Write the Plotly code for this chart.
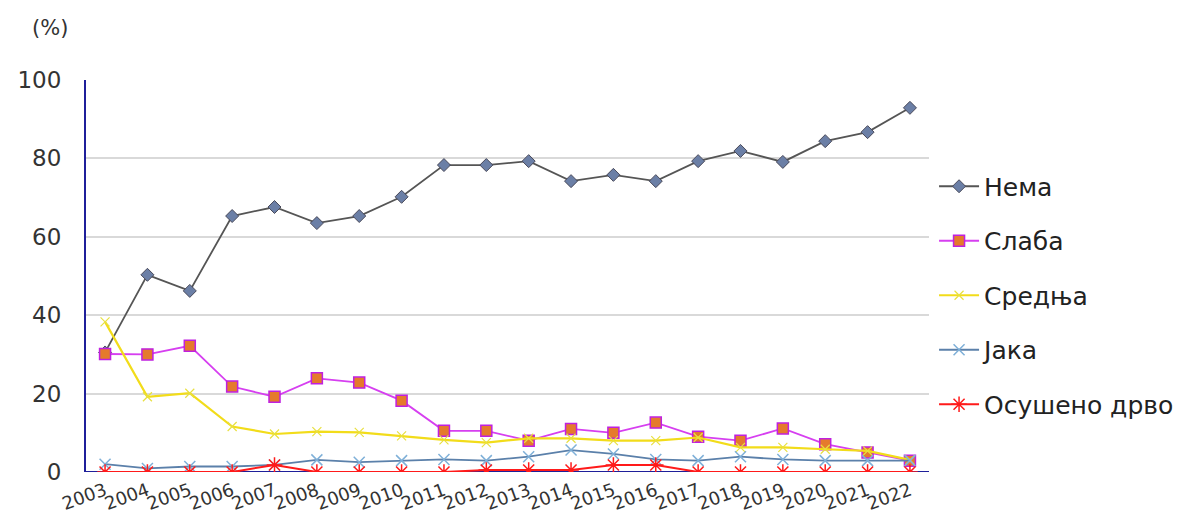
import plotly.graph_objects as go

years = [str(y) for y in range(2003, 2023)]
nema = [30.5, 50.3, 46.2, 65.3, 67.6, 63.5, 65.3, 70.2, 78.3, 78.3, 79.3, 74.2, 75.8, 74.2, 79.3, 81.9, 79.1, 84.4, 86.7, 92.9]
slaba = [30.1, 30.0, 32.2, 21.8, 19.2, 23.9, 22.8, 18.2, 10.5, 10.5, 8.0, 11.0, 10.0, 12.6, 9.0, 8.0, 11.1, 7.1, 5.0, 2.9]
srednja = [38.3, 19.2, 20.1, 11.6, 9.7, 10.3, 10.1, 9.2, 8.2, 7.5, 8.6, 8.6, 8.0, 8.0, 8.8, 6.3, 6.3, 5.8, 5.4, 3.1]
jaka = [2.0, 0.9, 1.4, 1.4, 1.8, 3.1, 2.5, 2.9, 3.2, 2.9, 3.9, 5.6, 4.6, 3.2, 2.9, 3.9, 3.2, 2.9, 2.9, 2.9]
osuseno = [0, 0, 0, 0, 1.8, 0, 0, 0, 0, 0.5, 0.5, 0.5, 1.8, 1.8, 0, 0, 0, 0, 0, 0]

names = ["Нема", "Слаба", "Средња", "Јака", "Осушено дрво"]
y_ticks = [0, 20, 40, 60, 80, 100]

x = list(range(len(years)))

FONT = "DejaVu Sans, Open Sans, sans-serif"

fig = go.Figure()
series = [
    (nema, names[0], dict(color="#555555", width=1.8), dict(symbol="diamond", size=10, color="#6b7fa6", line=dict(color="#4a4a5a", width=1))),
    (slaba, names[1], dict(color="#d63ff0", width=1.8), dict(symbol="square", size=11, color="#e57a2c", line=dict(color="#c020e0", width=1.5))),
    (srednja, names[2], dict(color="#f2dc1a", width=2.2), dict(symbol="x-thin", size=9, color="#e8e040", line=dict(color="#e8e040", width=1.2))),
    (jaka, names[3], dict(color="#5b80aa", width=1.8), dict(symbol="x-thin", size=11, color="#7fb0d8", line=dict(color="#7fb0d8", width=1.5))),
    (osuseno, names[4], dict(color="#ff1a1a", width=2), dict(symbol="asterisk", size=13, color="#ff1a1a", line=dict(color="#ff1a1a", width=1.5))),
]
for i, (vals, nm, ln, mk) in enumerate(series):
    fig.add_trace(go.Scatter(x=x, y=vals, name=nm, mode="lines+markers", line=ln, marker=mk,
                             legendgroup=f"g{i}"))

fig.update_layout(
    width=1183, height=530,
    margin=dict(l=78, r=262, t=72, b=66),
    paper_bgcolor="white", plot_bgcolor="white",
    font=dict(family=FONT, color="#333333"),
    legend=dict(x=1.006, xanchor="left", y=0.787, yanchor="top", font=dict(size=25, color="#222222", family=FONT),
                tracegroupgap=19, itemwidth=40, bgcolor="rgba(0,0,0,0)"),
    xaxis=dict(range=[-0.45, 19.45], tickmode="array", tickvals=x, ticktext=years, tickangle=-20,
               showgrid=False, zeroline=False, showline=False, ticks="", automargin=False,
               ticklabelstandoff=4,
               tickfont=dict(size=18, color="#333333", family=FONT)),
    yaxis=dict(range=[0, 100], tickmode="array", tickvals=y_ticks, showgrid=True, gridcolor="#d9d9d9",
               gridwidth=1.5, zeroline=False, showline=True, linecolor="#1f1f9a", linewidth=2,
               ticks="", automargin=False, tickfont=dict(size=23, color="#333333", family=FONT),
               ticklabelstandoff=18),
    shapes=[dict(type="line", xref="paper", yref="y", x0=0, x1=1, y0=0, y1=0,
                 line=dict(color="#1f1f9a", width=2), layer="below")],
    annotations=[dict(text="(%)", xref="paper", yref="paper", x=-0.043, y=1.133, xanchor="center",
                      yanchor="middle", showarrow=False, font=dict(size=21, color="#333333", family=FONT))],
)

fig.write_html("out.html")
